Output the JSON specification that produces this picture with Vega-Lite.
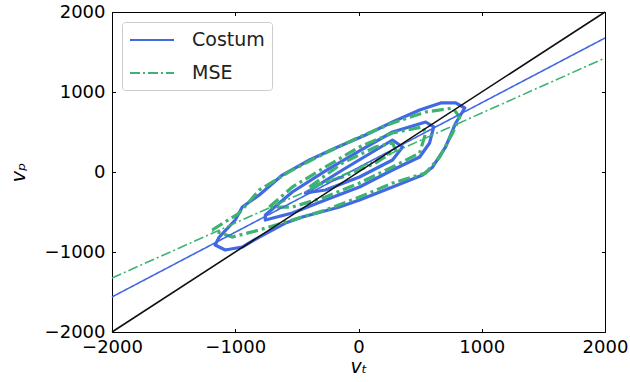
{
  "$schema": "https://vega.github.io/schema/vega-lite/v6.json",
  "width": 493,
  "height": 320,
  "autosize": {"type": "none"},
  "padding": {"left": 112, "top": 12, "right": 25, "bottom": 50},
  "background": "white",
  "config": {
    "view": {"stroke": null},
    "font": "DejaVu Sans",
    "axis": {
      "grid": false,
      "domainColor": "#000",
      "domainWidth": 1,
      "tickColor": "#000",
      "tickWidth": 1,
      "tickSize": -3.5,
      "labelColor": "#000",
      "labelFont": "DejaVu Sans",
      "labelFontSize": 18,
      "labelOverlap": false,
      "labelBound": false,
      "labelFlush": false,
      "titleFont": "DejaVu Sans",
      "titleFontSize": 19,
      "titleFontWeight": "normal",
      "titleFontStyle": "italic",
      "titleColor": "#000"
    }
  },
  "datasets": {
    "contours": [
      {"model": "Costum", "level": "c1", "ord": 1, "x": -1163, "y": -913},
      {"model": "Costum", "level": "c1", "ord": 2, "x": -1130, "y": -813},
      {"model": "Costum", "level": "c1", "ord": 3, "x": -1000, "y": -600},
      {"model": "Costum", "level": "c1", "ord": 4, "x": -943, "y": -438},
      {"model": "Costum", "level": "c1", "ord": 5, "x": -805, "y": -288},
      {"model": "Costum", "level": "c1", "ord": 6, "x": -618, "y": -38},
      {"model": "Costum", "level": "c1", "ord": 7, "x": -398, "y": 150},
      {"model": "Costum", "level": "c1", "ord": 8, "x": -187, "y": 300},
      {"model": "Costum", "level": "c1", "ord": 9, "x": 57, "y": 463},
      {"model": "Costum", "level": "c1", "ord": 10, "x": 276, "y": 625},
      {"model": "Costum", "level": "c1", "ord": 11, "x": 496, "y": 775},
      {"model": "Costum", "level": "c1", "ord": 12, "x": 667, "y": 863},
      {"model": "Costum", "level": "c1", "ord": 13, "x": 789, "y": 863},
      {"model": "Costum", "level": "c1", "ord": 14, "x": 862, "y": 800},
      {"model": "Costum", "level": "c1", "ord": 15, "x": 789, "y": 613},
      {"model": "Costum", "level": "c1", "ord": 16, "x": 707, "y": 313},
      {"model": "Costum", "level": "c1", "ord": 17, "x": 602, "y": 63},
      {"model": "Costum", "level": "c1", "ord": 18, "x": 520, "y": -38},
      {"model": "Costum", "level": "c1", "ord": 19, "x": 276, "y": -188},
      {"model": "Costum", "level": "c1", "ord": 20, "x": 8, "y": -350},
      {"model": "Costum", "level": "c1", "ord": 21, "x": -154, "y": -438},
      {"model": "Costum", "level": "c1", "ord": 22, "x": -455, "y": -563},
      {"model": "Costum", "level": "c1", "ord": 23, "x": -593, "y": -638},
      {"model": "Costum", "level": "c1", "ord": 24, "x": -805, "y": -813},
      {"model": "Costum", "level": "c1", "ord": 25, "x": -943, "y": -938},
      {"model": "Costum", "level": "c1", "ord": 26, "x": -1081, "y": -975},
      {"model": "Costum", "level": "c1", "ord": 27, "x": -1163, "y": -913},
      {"model": "Costum", "level": "c2", "ord": 1, "x": -756, "y": -538},
      {"model": "Costum", "level": "c2", "ord": 2, "x": -537, "y": -250},
      {"model": "Costum", "level": "c2", "ord": 3, "x": -268, "y": 13},
      {"model": "Costum", "level": "c2", "ord": 4, "x": 8, "y": 263},
      {"model": "Costum", "level": "c2", "ord": 5, "x": 276, "y": 500},
      {"model": "Costum", "level": "c2", "ord": 6, "x": 545, "y": 625},
      {"model": "Costum", "level": "c2", "ord": 7, "x": 610, "y": 563},
      {"model": "Costum", "level": "c2", "ord": 8, "x": 577, "y": 363},
      {"model": "Costum", "level": "c2", "ord": 9, "x": 496, "y": 188},
      {"model": "Costum", "level": "c2", "ord": 10, "x": 276, "y": 25},
      {"model": "Costum", "level": "c2", "ord": 11, "x": 8, "y": -188},
      {"model": "Costum", "level": "c2", "ord": 12, "x": -268, "y": -350},
      {"model": "Costum", "level": "c2", "ord": 13, "x": -537, "y": -513},
      {"model": "Costum", "level": "c2", "ord": 14, "x": -756, "y": -600},
      {"model": "Costum", "level": "c2", "ord": 15, "x": -756, "y": -538},
      {"model": "Costum", "level": "c3", "ord": 1, "x": -431, "y": -263},
      {"model": "Costum", "level": "c3", "ord": 2, "x": -130, "y": 25},
      {"model": "Costum", "level": "c3", "ord": 3, "x": 276, "y": 400},
      {"model": "Costum", "level": "c3", "ord": 4, "x": 358, "y": 313},
      {"model": "Costum", "level": "c3", "ord": 5, "x": 276, "y": 150},
      {"model": "Costum", "level": "c3", "ord": 6, "x": 8, "y": -63},
      {"model": "Costum", "level": "c3", "ord": 7, "x": -268, "y": -225},
      {"model": "Costum", "level": "c3", "ord": 8, "x": -431, "y": -263},
      {"model": "MSE", "level": "m1", "ord": 1, "x": -1187, "y": -725},
      {"model": "MSE", "level": "m1", "ord": 2, "x": -967, "y": -513},
      {"model": "MSE", "level": "m1", "ord": 3, "x": -805, "y": -225},
      {"model": "MSE", "level": "m1", "ord": 4, "x": -537, "y": 25},
      {"model": "MSE", "level": "m1", "ord": 5, "x": -268, "y": 238},
      {"model": "MSE", "level": "m1", "ord": 6, "x": 8, "y": 438},
      {"model": "MSE", "level": "m1", "ord": 7, "x": 276, "y": 613},
      {"model": "MSE", "level": "m1", "ord": 8, "x": 545, "y": 750},
      {"model": "MSE", "level": "m1", "ord": 9, "x": 764, "y": 800},
      {"model": "MSE", "level": "m1", "ord": 10, "x": 821, "y": 688},
      {"model": "MSE", "level": "m1", "ord": 11, "x": 764, "y": 488},
      {"model": "MSE", "level": "m1", "ord": 12, "x": 659, "y": 188},
      {"model": "MSE", "level": "m1", "ord": 13, "x": 545, "y": -13},
      {"model": "MSE", "level": "m1", "ord": 14, "x": 276, "y": -138},
      {"model": "MSE", "level": "m1", "ord": 15, "x": 8, "y": -313},
      {"model": "MSE", "level": "m1", "ord": 16, "x": -268, "y": -475},
      {"model": "MSE", "level": "m1", "ord": 17, "x": -537, "y": -600},
      {"model": "MSE", "level": "m1", "ord": 18, "x": -805, "y": -725},
      {"model": "MSE", "level": "m1", "ord": 19, "x": -1024, "y": -813},
      {"model": "MSE", "level": "m1", "ord": 20, "x": -1187, "y": -725},
      {"model": "MSE", "level": "m2", "ord": 1, "x": -724, "y": -438},
      {"model": "MSE", "level": "m2", "ord": 2, "x": -537, "y": -188},
      {"model": "MSE", "level": "m2", "ord": 3, "x": -268, "y": 63},
      {"model": "MSE", "level": "m2", "ord": 4, "x": 8, "y": 313},
      {"model": "MSE", "level": "m2", "ord": 5, "x": 276, "y": 488},
      {"model": "MSE", "level": "m2", "ord": 6, "x": 520, "y": 563},
      {"model": "MSE", "level": "m2", "ord": 7, "x": 545, "y": 488},
      {"model": "MSE", "level": "m2", "ord": 8, "x": 496, "y": 238},
      {"model": "MSE", "level": "m2", "ord": 9, "x": 276, "y": 63},
      {"model": "MSE", "level": "m2", "ord": 10, "x": 8, "y": -138},
      {"model": "MSE", "level": "m2", "ord": 11, "x": -268, "y": -313},
      {"model": "MSE", "level": "m2", "ord": 12, "x": -537, "y": -438},
      {"model": "MSE", "level": "m2", "ord": 13, "x": -724, "y": -438},
      {"model": "MSE", "level": "m3", "ord": 1, "x": -398, "y": -188},
      {"model": "MSE", "level": "m3", "ord": 2, "x": -130, "y": 113},
      {"model": "MSE", "level": "m3", "ord": 3, "x": 138, "y": 313},
      {"model": "MSE", "level": "m3", "ord": 4, "x": 276, "y": 363},
      {"model": "MSE", "level": "m3", "ord": 5, "x": 301, "y": 275},
      {"model": "MSE", "level": "m3", "ord": 6, "x": 138, "y": 113},
      {"model": "MSE", "level": "m3", "ord": 7, "x": -130, "y": -63},
      {"model": "MSE", "level": "m3", "ord": 8, "x": -398, "y": -188}
    ],
    "fits": [
      {"model": "Costum", "x": -2000, "y": -1562},
      {"model": "Costum", "x": 2000, "y": 1675},
      {"model": "MSE", "x": -2000, "y": -1325},
      {"model": "MSE", "x": 2000, "y": 1425}
    ],
    "identity": [
      {"x": -2000, "y": -2000},
      {"x": 2000, "y": 2000}
    ]
  },
  "layer": [
    {
      "data": {"name": "contours"},
      "transform": [{"filter": "datum.model === 'Costum'"}],
      "mark": {"type": "line", "strokeWidth": 3.2, "strokeJoin": "round", "strokeCap": "round"},
      "encoding": {
        "x": {"field": "x", "type": "quantitative", "axis": null},
        "y": {"field": "y", "type": "quantitative", "axis": null},
        "order": {"field": "ord", "type": "quantitative"},
        "detail": {"field": "level"},
        "color": {"field": "model", "type": "nominal"}
      }
    },
    {
      "data": {"name": "contours"},
      "transform": [{"filter": "datum.model === 'MSE'"}],
      "mark": {"type": "line", "strokeWidth": 3.2, "strokeDash": [12, 4, 3, 4]},
      "encoding": {
        "x": {"field": "x", "type": "quantitative", "axis": null},
        "y": {"field": "y", "type": "quantitative", "axis": null},
        "order": {"field": "ord", "type": "quantitative"},
        "detail": {"field": "level"},
        "color": {"field": "model", "type": "nominal"}
      }
    },
    {
      "data": {"name": "fits"},
      "mark": {"type": "line", "strokeWidth": 1.6},
      "encoding": {
        "x": {"field": "x", "type": "quantitative",
              "axis": {"orient": "top", "labels": false, "title": null, "values": [-2000, -1000, 0, 1000, 2000]}},
        "y": {"field": "y", "type": "quantitative",
              "axis": {"orient": "right", "labels": false, "title": null, "values": [-2000, -1000, 0, 1000, 2000]}},
        "color": {
          "field": "model", "type": "nominal",
          "scale": {"domain": ["Costum", "MSE"], "range": ["#4169e1", "#3cb371"]},
          "legend": {
            "title": null,
            "orient": "top-left",
            "offset": 10,
            "padding": 7,
            "strokeColor": "#cccccc",
            "fillColor": "white",
            "cornerRadius": 3,
            "symbolType": "M-1,0H3.4",
            "symbolSize": 400,
            "symbolStrokeWidth": 2,
            "labelOffset": 41,
            "labelFont": "DejaVu Sans",
            "labelFontSize": 19,
            "labelColor": "#222",
            "rowPadding": 12
          }
        },
        "strokeDash": {
          "field": "model", "type": "nominal",
          "scale": {"domain": ["Costum", "MSE"], "range": [[1, 0], [10, 3, 2, 3]]},
          "legend": {
            "title": null,
            "orient": "top-left",
            "offset": 10,
            "padding": 7,
            "strokeColor": "#cccccc",
            "fillColor": "white",
            "cornerRadius": 3,
            "symbolType": "M-1,0H3.4",
            "symbolSize": 400,
            "symbolStrokeWidth": 2,
            "labelOffset": 41,
            "labelFont": "DejaVu Sans",
            "labelFontSize": 19,
            "labelColor": "#222",
            "rowPadding": 12
          }
        }
      }
    },
    {
      "data": {"name": "identity"},
      "mark": {"type": "line", "color": "#111", "strokeWidth": 1.6},
      "encoding": {
        "x": {"field": "x", "type": "quantitative",
              "scale": {"domain": [-2000, 2000], "nice": false, "zero": false},
              "axis": {"orient": "bottom", "title": "vₜ", "values": [-2000, -1000, 0, 1000, 2000], "format": "d", "labelPadding": 9.5, "titlePadding": 1}},
        "y": {"field": "y", "type": "quantitative",
              "scale": {"domain": [-2000, 2000], "nice": false, "zero": false},
              "axis": {"orient": "left", "title": "vₚ", "values": [-2000, -1000, 0, 1000, 2000], "format": "d", "labelPadding": 10.5, "titlePadding": 16}}
      }
    }
  ],
  "resolve": {"axis": {"x": "independent", "y": "independent"}}
}
